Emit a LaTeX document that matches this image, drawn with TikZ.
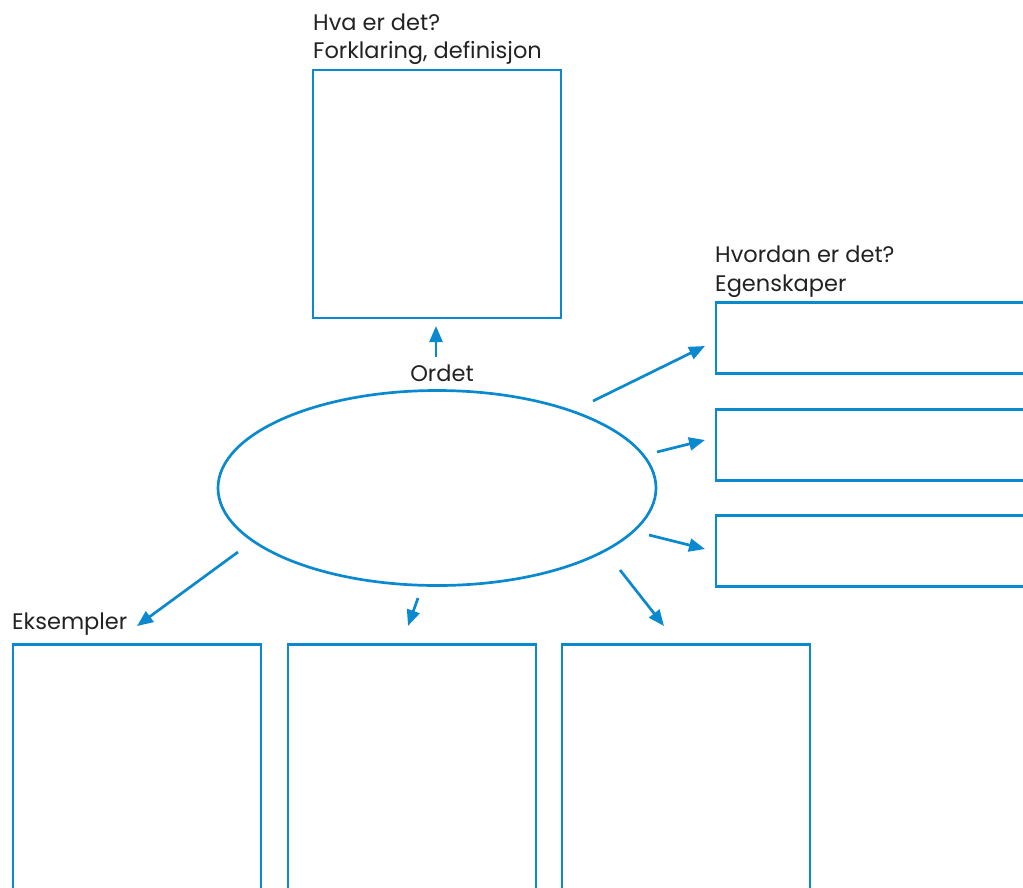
\documentclass[tikz,border=0pt]{standalone}
\usepackage{fontspec}
\setmainfont{Poppins}
\usetikzlibrary{arrows.meta,shapes.geometric}
\definecolor{mblue}{RGB}{10,137,206}
\definecolor{mtext}{RGB}{34,34,34}
\begin{document}
\begin{tikzpicture}[x=1pt,y=-1pt,
  boxline/.style={draw=mblue,line width=2.7pt},
  conn/.style={draw=mblue,line width=2.7pt,-{Triangle[length=16pt,width=13pt]}},
  lbl/.style={text=mtext,font=\fontsize{22.5}{28}\selectfont,inner sep=0pt,align=left}]
\useasboundingbox (0,0) rectangle (1023,887);
\clip (0,0) rectangle (1023,887);
% top box
\node[boxline,minimum width=248pt,minimum height=248pt,inner sep=0pt] (top) at (437,194) {};
\node[lbl,anchor=base west] (t1) at (313,30) {Hva er det?};
\node[lbl,anchor=base west] (t2) at (313,58) {Forklaring, definisjon};
% ellipse
\node[boxline,ellipse,minimum width=438pt,minimum height=195pt,inner sep=0pt] (ell) at (437,488) {};
\node[lbl,anchor=base] (ord) at (442,381) {Ordet};
\coordinate (ua) at (436,357);
\coordinate (ub) at (436,326);
\draw[conn] (ua) -- (ub);
% right boxes
\node[boxline,minimum width=340pt,minimum height=71pt,inner sep=0pt,anchor=north west] (r1) at (714.5,301) {};
\node[boxline,minimum width=340pt,minimum height=71pt,inner sep=0pt,anchor=north west] (r2) at (714.5,408) {};
\node[boxline,minimum width=340pt,minimum height=71pt,inner sep=0pt,anchor=north west] (r3) at (714.5,514) {};
\node[lbl,anchor=base west] (h1) at (715,262) {Hvordan er det?};
\node[lbl,anchor=base west] (h2) at (715,291) {Egenskaper};
\coordinate (a1s) at (593,401); \coordinate (a1e) at (705,346);
\coordinate (a2s) at (657,452); \coordinate (a2e) at (705,440);
\coordinate (a3s) at (649,535); \coordinate (a3e) at (705,549);
\draw[conn] (a1s) -- (a1e);
\draw[conn] (a2s) -- (a2e);
\draw[conn] (a3s) -- (a3e);
% bottom boxes
\node[boxline,minimum width=248pt,minimum height=300pt,inner sep=0pt,anchor=north west] (b1) at (11.5,643) {};
\node[boxline,minimum width=248pt,minimum height=300pt,inner sep=0pt,anchor=north west] (b2) at (286.5,643) {};
\node[boxline,minimum width=248pt,minimum height=300pt,inner sep=0pt,anchor=north west] (b3) at (560.5,643) {};
\node[lbl,anchor=base west] (eks) at (12,629) {Eksempler};
\coordinate (b1s) at (238,552); \coordinate (b1e) at (137,626);
\coordinate (b2s) at (418,598); \coordinate (b2e) at (408,626);
\coordinate (b3s) at (620,570); \coordinate (b3e) at (664,626);
\draw[conn] (b1s) -- (b1e);
\draw[conn] (b2s) -- (b2e);
\draw[conn] (b3s) -- (b3e);
\end{tikzpicture}
\end{document}
